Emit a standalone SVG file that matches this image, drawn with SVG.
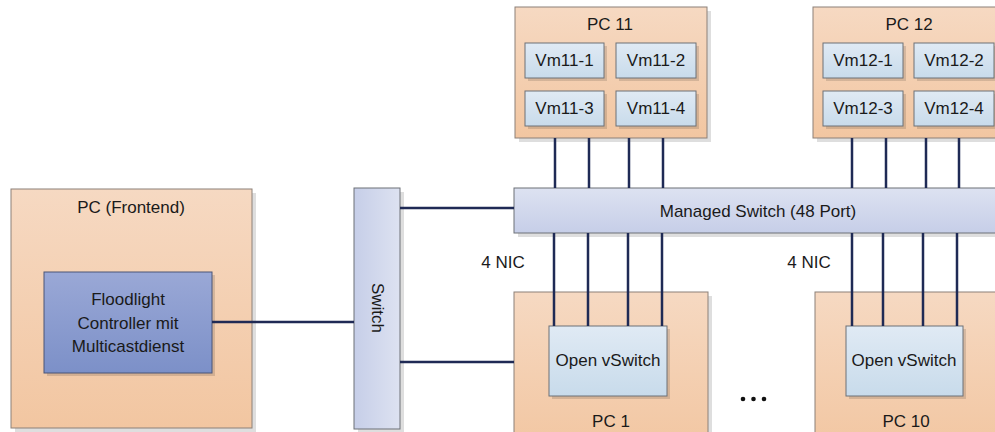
<svg xmlns="http://www.w3.org/2000/svg" width="995" height="432" viewBox="0 0 995 432">
  <defs>
    <linearGradient id="gPc" x1="0" y1="0" x2="0" y2="1">
      <stop offset="0" stop-color="#f6d9c2"/>
      <stop offset="1" stop-color="#f2c6a1"/>
    </linearGradient>
    <linearGradient id="gCtrl" x1="0" y1="0" x2="0" y2="1">
      <stop offset="0" stop-color="#9aa8d6"/>
      <stop offset="1" stop-color="#7c90c8"/>
    </linearGradient>
    <linearGradient id="gVm" x1="0" y1="0" x2="0" y2="1">
      <stop offset="0" stop-color="#e0eaf4"/>
      <stop offset="1" stop-color="#c8dbeb"/>
    </linearGradient>
    <linearGradient id="gSw" x1="0" y1="0" x2="0" y2="1">
      <stop offset="0" stop-color="#dde2f1"/>
      <stop offset="1" stop-color="#c6cee8"/>
    </linearGradient>
    <linearGradient id="gSwV" x1="0" y1="0" x2="1" y2="0">
      <stop offset="0" stop-color="#c6cee8"/>
      <stop offset="1" stop-color="#dde2f1"/>
    </linearGradient>
  </defs>
  <style>
    text { font-family: "Liberation Sans", Arial, sans-serif; font-size: 17px; fill: #1a1a1a; text-anchor: middle; }
    .shadow { fill: #000; fill-opacity: 0.13; }
    .pc { fill: url(#gPc); stroke: #8c8078; stroke-width: 1; }
    .ctrl { fill: url(#gCtrl); stroke: #4a5577; stroke-width: 1; }
    .vm { fill: url(#gVm); stroke: #6c7077; stroke-width: 1; }
    .sw { fill: url(#gSw); stroke: #6c7077; stroke-width: 1; }
    .swv { fill: url(#gSwV); stroke: #6c7077; stroke-width: 1; }
    .link { stroke: #1f2a55; stroke-width: 2.5; fill: none; }
  </style>

  <!-- frontend PC with the controller -->
  <g id="pc-frontend">
    <rect class="shadow" x="15" y="193" width="241" height="239"/>
    <rect class="pc" x="11" y="189" width="241" height="239"/>
    <text x="131" y="213">PC (Frontend)</text>
  </g>
  <g id="controller">
    <rect class="shadow" x="47" y="275" width="168" height="101"/>
    <rect class="ctrl" x="44" y="272" width="168" height="101"/>
    <text x="128" y="305">Floodlight</text>
    <text x="128" y="329">Controller mit</text>
    <text x="128" y="352">Multicastdienst</text>
  </g>

  <!-- plain switch -->
  <g id="switch">
    <rect class="shadow" x="358" y="192" width="46" height="240"/>
    <rect class="swv" x="354" y="188" width="46" height="241"/>
    <text x="377" y="308" dominant-baseline="central" transform="rotate(90 377 308)">Switch</text>
  </g>

  <!-- managed switch -->
  <g id="managed-switch">
    <rect class="shadow" x="518" y="192" width="500" height="45"/>
    <rect class="sw" x="514" y="188" width="500" height="45"/>
    <text x="758" y="217">Managed Switch (48 Port)</text>
  </g>

  <!-- PC 11 with four VMs -->
  <g id="pc11">
    <rect class="shadow" x="519" y="11" width="192" height="131"/>
    <rect class="pc" x="515" y="7" width="192" height="131"/>
    <text x="610" y="30">PC 11</text>
    <rect class="shadow" x="528" y="46" width="79" height="35"/>
    <rect class="vm" x="525" y="43" width="79" height="35"/>
    <text x="564.5" y="66">Vm11-1</text>
    <rect class="shadow" x="619" y="46" width="80" height="35"/>
    <rect class="vm" x="616" y="43" width="80" height="35"/>
    <text x="656" y="66">Vm11-2</text>
    <rect class="shadow" x="528" y="94" width="79" height="35"/>
    <rect class="vm" x="525" y="91" width="79" height="35"/>
    <text x="564.5" y="114">Vm11-3</text>
    <rect class="shadow" x="619" y="94" width="80" height="35"/>
    <rect class="vm" x="616" y="91" width="80" height="35"/>
    <text x="656" y="114">Vm11-4</text>
  </g>

  <!-- PC 12 with four VMs -->
  <g id="pc12">
    <rect class="shadow" x="817" y="11" width="192" height="131"/>
    <rect class="pc" x="813" y="7" width="192" height="131"/>
    <text x="909" y="30">PC 12</text>
    <rect class="shadow" x="826" y="46" width="80" height="35"/>
    <rect class="vm" x="823" y="43" width="80" height="35"/>
    <text x="863" y="66">Vm12-1</text>
    <rect class="shadow" x="917" y="46" width="80" height="35"/>
    <rect class="vm" x="914" y="43" width="80" height="35"/>
    <text x="954" y="66">Vm12-2</text>
    <rect class="shadow" x="826" y="94" width="80" height="35"/>
    <rect class="vm" x="823" y="91" width="80" height="35"/>
    <text x="863" y="114">Vm12-3</text>
    <rect class="shadow" x="917" y="94" width="80" height="35"/>
    <rect class="vm" x="914" y="91" width="80" height="35"/>
    <text x="954" y="114">Vm12-4</text>
  </g>

  <!-- PC 1 with Open vSwitch -->
  <g id="pc1">
    <rect class="shadow" x="518" y="296" width="194" height="160"/>
    <rect class="pc" x="514" y="292" width="194" height="160"/>
    <rect class="shadow" x="552" y="329" width="118" height="70"/>
    <rect class="vm" x="549" y="326" width="118" height="70"/>
    <text x="608" y="366">Open vSwitch</text>
    <text x="611" y="427">PC 1</text>
  </g>

  <!-- PC 10 with Open vSwitch -->
  <g id="pc10">
    <rect class="shadow" x="819" y="296" width="194" height="160"/>
    <rect class="pc" x="815" y="292" width="194" height="160"/>
    <rect class="shadow" x="849" y="329" width="117" height="70"/>
    <rect class="vm" x="846" y="326" width="117" height="70"/>
    <text x="904" y="366">Open vSwitch</text>
    <text x="906" y="427">PC 10</text>
  </g>

  <!-- NIC labels and ellipsis -->
  <g id="labels">
    <text x="503" y="268">4 NIC</text>
    <text x="809" y="268">4 NIC</text>
    <circle cx="743" cy="399" r="2.3" fill="#111"/>
    <circle cx="753.5" cy="399" r="2.3" fill="#111"/>
    <circle cx="764" cy="399" r="2.3" fill="#111"/>
  </g>

  <!-- cabling -->
  <g id="connectors" class="link">
    <line x1="212" y1="322" x2="354" y2="322"/>
    <line x1="400" y1="208" x2="514" y2="208"/>
    <line x1="400" y1="362" x2="514" y2="362"/>
    <line x1="555" y1="138" x2="555" y2="188"/>
    <line x1="589" y1="138" x2="589" y2="188"/>
    <line x1="629" y1="138" x2="629" y2="188"/>
    <line x1="663" y1="138" x2="663" y2="188"/>
    <line x1="852" y1="138" x2="852" y2="188"/>
    <line x1="886" y1="138" x2="886" y2="188"/>
    <line x1="926" y1="138" x2="926" y2="188"/>
    <line x1="959" y1="138" x2="959" y2="188"/>
    <line x1="554" y1="233" x2="554" y2="326"/>
    <line x1="588" y1="233" x2="588" y2="326"/>
    <line x1="628" y1="233" x2="628" y2="326"/>
    <line x1="662" y1="233" x2="662" y2="326"/>
    <line x1="852" y1="233" x2="852" y2="326"/>
    <line x1="883" y1="233" x2="883" y2="326"/>
    <line x1="923" y1="233" x2="923" y2="326"/>
    <line x1="957" y1="233" x2="957" y2="326"/>
  </g>
</svg>
